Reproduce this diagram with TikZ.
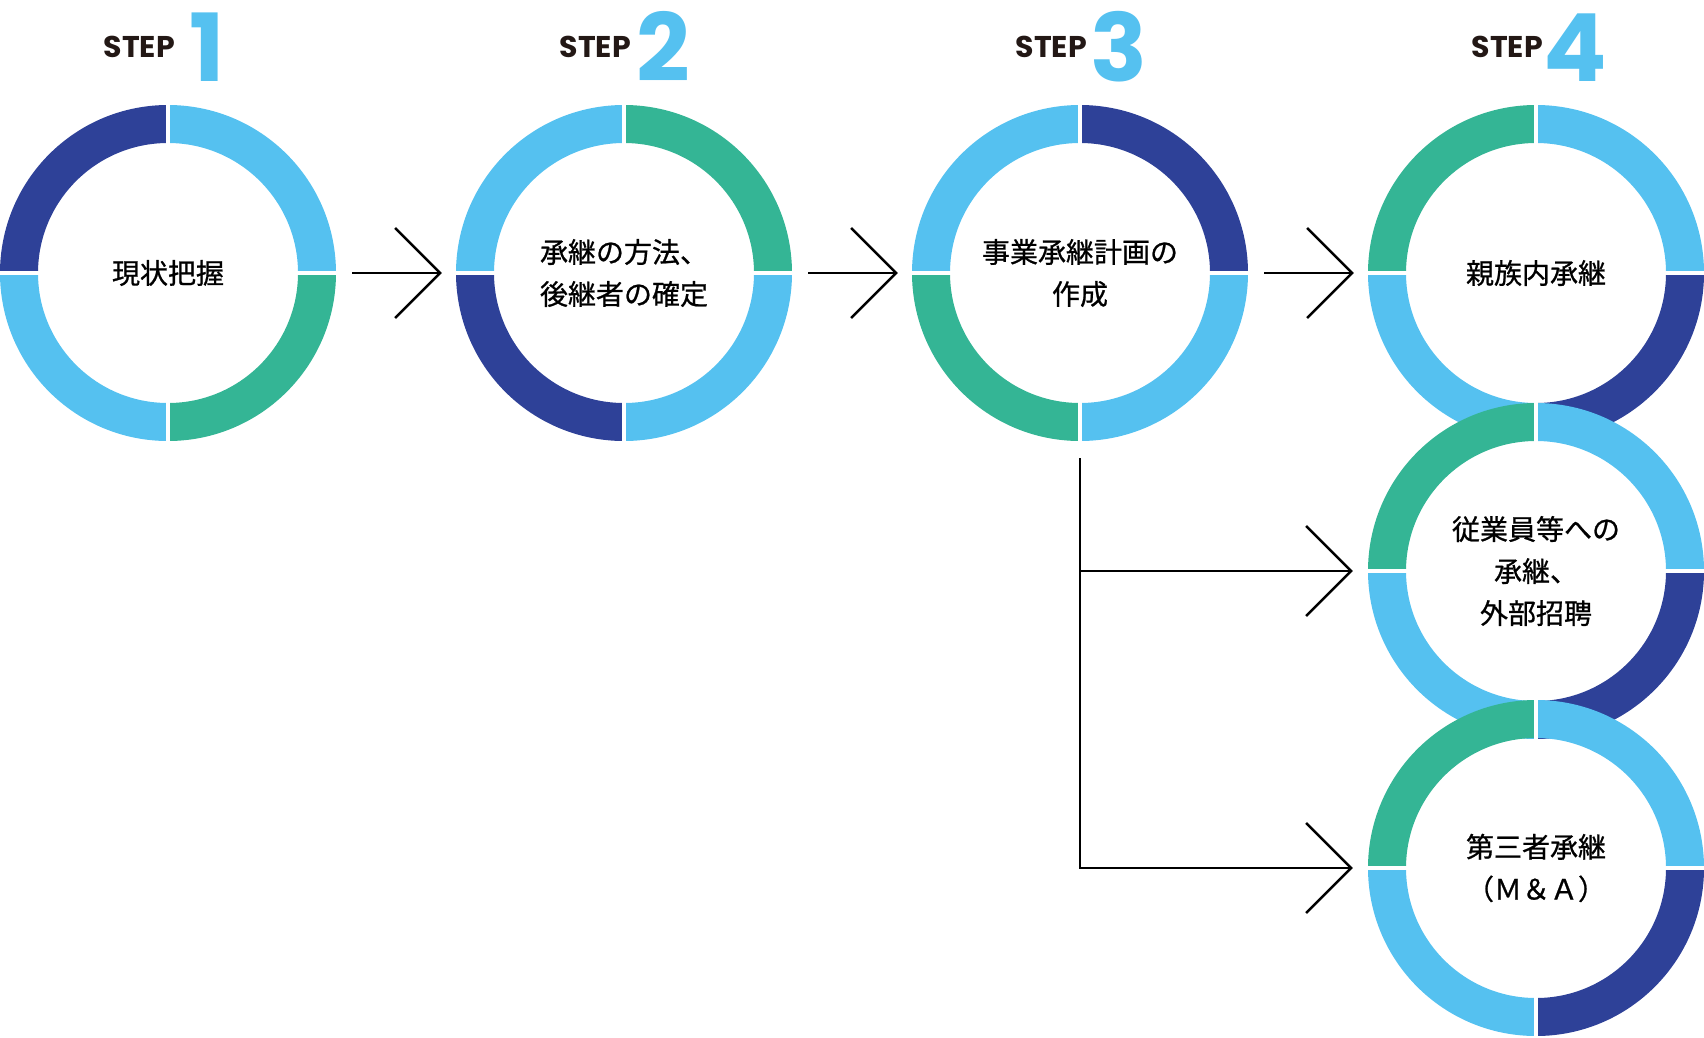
\documentclass[tikz,border=0pt]{standalone}
\usepackage{fontspec}
\usepackage{xcolor}
\usetikzlibrary{arrows.meta, positioning, calc}
\newfontfamily\jpfont[FakeBold=0.8]{Noto Sans CJK JP}
\newfontfamily\stepfont{Poppins}
\definecolor{darkblue}{HTML}{2E4198}
\definecolor{lightblue}{HTML}{55C1F0}
\definecolor{ringgreen}{HTML}{34B595}
\definecolor{steptext}{HTML}{231815}

\tikzset{
	ringnode/.style={circle, minimum size=336pt, inner sep=0pt, align=center, font=\jpfont\fontsize{28}{42}\selectfont},
	ringarc/.style={line width=38pt},
	gapline/.style={white, line width=4pt},
	flow/.style={line width=2.5pt, -{Straight Barb[length=45pt, width=90pt]}},
	steplabel/.style={inner sep=0pt, anchor=base east, text=steptext, font=\stepfont\bfseries\fontsize{30}{30}\selectfont},
	stepnumber/.style={inner sep=0pt, anchor=base, text=lightblue, font=\stepfont\bfseries\fontsize{94}{94}\selectfont}
}

% ring of a node: top-left, top-right, bottom-right, bottom-left
\newcommand{\ringparts}[5]{
	\draw[ringarc, #2] (#1.center) ++(180:149pt) arc[start angle=180, end angle=90, radius=149pt];
	\draw[ringarc, #3] (#1.center) ++(90:149pt) arc[start angle=90, end angle=0, radius=149pt];
	\draw[ringarc, #4] (#1.center) ++(0:149pt) arc[start angle=0, end angle=-90, radius=149pt];
	\draw[ringarc, #5] (#1.center) ++(-90:149pt) arc[start angle=-90, end angle=-180, radius=149pt];
	\foreach \a in {0,90,180,270}
		\draw[gapline] (#1.center) ++(\a:126pt) -- ++(\a:46pt);
}

\begin{document}
\begin{tikzpicture}[x=1pt, y=1pt]
		\useasboundingbox (0,0) rectangle (1704,-1037);

		\node[ringnode] (Step1) at (168,-273) {現状把握};
		\node[ringnode] (Step2) at (624,-273) {承継の方法、\\後継者の確定};
		\node[ringnode] (Step3) at (1080,-273) {事業承継計画の\\作成};
		\node[ringnode] (Family) at (1536,-273) {親族内承継};
		\node[ringnode] (Employee) at (1536,-571) {従業員等への\\承継、\\外部招聘};
		\node[ringnode] (Third) at (1536,-868) {第三者承継\\（Ｍ＆Ａ）};

		\ringparts{Step1}{darkblue}{lightblue}{ringgreen}{lightblue}
		\ringparts{Step2}{lightblue}{ringgreen}{lightblue}{darkblue}
		\ringparts{Step3}{lightblue}{darkblue}{lightblue}{ringgreen}
		\ringparts{Family}{ringgreen}{lightblue}{darkblue}{lightblue}
		\ringparts{Employee}{ringgreen}{lightblue}{darkblue}{lightblue}
		\ringparts{Third}{ringgreen}{lightblue}{darkblue}{lightblue}

		\node[steplabel] (Label1) at (175,-57) {STEP};
		\node[stepnumber] (Number1) at (207,-81) {1};
		\node[steplabel] (Label2) at (631,-57) {STEP};
		\node[stepnumber] (Number2) at (663,-81) {2};
		\node[steplabel] (Label3) at (1087,-57) {STEP};
		\node[stepnumber] (Number3) at (1119,-81) {3};
		\node[steplabel] (Label4) at (1543,-57) {STEP};
		\node[stepnumber] (Number4) at (1575,-81) {4};

		\draw[flow, shorten <=16pt, shorten >=14pt] (Step1) to (Step2);
		\draw[flow, shorten <=16pt, shorten >=14pt] (Step2) to (Step3);
		\draw[flow, shorten <=16pt, shorten >=14pt] (Step3) to (Family);

		\coordinate (Branch) at ([yshift=-17pt]Step3.south);
		\draw[flow, shorten >=15pt] (Branch) |- (Employee);
		\draw[flow, shorten >=15pt] (Branch) |- (Third);
	\end{tikzpicture}
\end{document}
